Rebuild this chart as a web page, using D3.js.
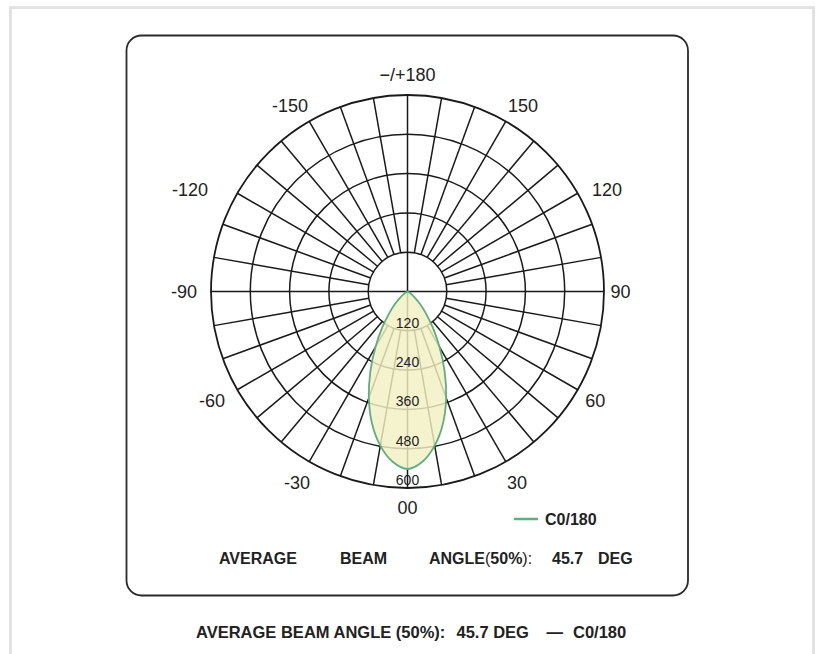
<!DOCTYPE html>
<html>
<head>
<meta charset="utf-8">
<script src="https://cdn.jsdelivr.net/npm/d3@7"></script>
<style>
  html, body { margin: 0; padding: 0; background: #fff; }
  #card { position: absolute; left: 9px; top: 6px; width: 806px; height: 700px; border: 3px solid #e3e3e3; box-sizing: border-box; }
  svg { position: absolute; left: 0; top: 0; }
  text { font-family: "Liberation Sans", Arial, Helvetica, sans-serif; fill: #222; }
</style>
</head>
<body>
<div id="card"></div>
<svg id="chart" width="821" height="654"></svg>
<script>
// ---- data ----
const gammaAngles = [0, 5, 10, 15, 20, 25, 30, 35, 40, 45, 50, 55, 60, 65, 70, 75, 80, 85, 90];
const c0_180 = [542, 522, 478, 418, 345, 268, 195, 135, 88, 55, 30, 14, 5, 0, 0, 0, 0, 0, 0];
const ringValues = [120, 240, 360, 480, 600];
const angleTicks = [0, 30, 60, 90, 120, 150, 180, -150, -120, -90, -60, -30];
const angleTickLabels = ["00", "30", "60", "90", "120", "150", "\u2212/+180", "-150", "-120", "-90", "-60", "-30"];
const seriesName = "C0/180";
const beamAngle = "45.7";

// ---- layout ----
const svg = d3.select("#chart");
const cx = 407.5, cy = 291.5, R = 196.5;
const rScale = d3.scaleLinear().domain([0, 600]).range([0, R]);
const toRad = d => d * Math.PI / 180;
const px = (g, r) => cx + r * Math.sin(toRad(g));
const py = (g, r) => cy + r * Math.cos(toRad(g));
// hand-placement nudges of the angle labels, as in the original drawing
const labelNudge = new Map([
  [180, [0, 1.5]], [150, [6.5, 3.3]], [120, [10.7, 7.5]], [90, [-5, 0]],
  [60, [-1, 0]], [30, [0.5, 2.7]], [0, [0, -1.5]], [-30, [-1.5, 2.7]],
  [-60, [-6.7, 0]], [-90, [-5.5, 0]], [-120, [-28.7, 7.5]], [-150, [-8.5, 3.3]]
]);

// frame
svg.append("rect").attr("x", 126.5).attr("y", 35.5).attr("width", 561.5).attr("height", 560)
  .attr("rx", 15).attr("fill", "none").attr("stroke", "#2b2b2b").attr("stroke-width", 1.8);

const grid = svg.append("g").attr("stroke", "#1a1a1a").attr("fill", "none").attr("stroke-width", 1.5);
// rings
grid.selectAll("circle").data(ringValues).join("circle")
  .attr("cx", cx).attr("cy", cy).attr("r", d => rScale(d))
  .attr("stroke-width", (d, i) => i === ringValues.length - 1 ? 1.8 : 1.5);
// spokes every 10 degrees
const spokes = d3.range(0, 360, 10);
grid.selectAll("line").data(spokes).join("line")
  .attr("x1", d => d % 90 === 0 ? cx : px(d, rScale(ringValues[0])))
  .attr("y1", d => d % 90 === 0 ? cy : py(d, rScale(ringValues[0])))
  .attr("x2", d => px(d, R))
  .attr("y2", d => py(d, R));

// lobe (symmetric C0/180)
const pts = [];
const lastIdx = c0_180.findIndex((v, i) => v === 0 && i > 0);
for (let i = lastIdx; i >= 1; i--) pts.push([-gammaAngles[i], c0_180[i]]);
for (let i = 0; i <= lastIdx; i++) pts.push([gammaAngles[i], c0_180[i]]);
const radial = d3.lineRadial()
  .angle(d => Math.PI - toRad(d[0]))
  .radius(d => rScale(d[1]))
  .curve(d3.curveCatmullRom.alpha(0.5));
svg.append("path")
  .attr("transform", `translate(${cx},${cy})`)
  .attr("d", radial(pts) + "Z")
  .attr("fill", "#f3f0c2").attr("fill-opacity", 0.82)
  .attr("stroke", "#5fae80").attr("stroke-width", 1.8);

// ring labels
svg.append("g").selectAll("text").data(ringValues).join("text")
  .attr("x", cx).attr("y", d => cy + rScale(d) - 3)
  .attr("text-anchor", "middle").attr("font-size", 14)
  .text(d => d);

// angle labels
svg.append("g").selectAll("text").data(angleTicks).join("text")
  .attr("x", d => px(d, 218) + labelNudge.get(d)[0])
  .attr("y", d => py(d, 218) + labelNudge.get(d)[1])
  .attr("text-anchor", "middle").attr("dominant-baseline", "central")
  .attr("font-size", 18)
  .text((d, i) => angleTickLabels[i]);

// legend
svg.append("line").attr("x1", 514).attr("x2", 538).attr("y1", 519).attr("y2", 519)
  .attr("stroke", "#5fae80").attr("stroke-width", 2.5);
svg.append("text").attr("x", 545).attr("y", 524.5).attr("font-size", 16).attr("font-weight", "bold").text(seriesName);

// inner caption
const cap = svg.append("g").attr("font-size", 16).attr("font-weight", "bold");
cap.append("text").attr("x", 219).attr("y", 564).text("AVERAGE");
cap.append("text").attr("x", 340).attr("y", 564).text("BEAM");
const ang = cap.append("text").attr("x", 429).attr("y", 564);
ang.append("tspan").text("ANGLE");
ang.append("tspan").attr("font-weight", "normal").text("(");
ang.append("tspan").text("50%");
ang.append("tspan").attr("font-weight", "normal").text("):");
cap.append("text").attr("x", 552).attr("y", 564).text(beamAngle);
cap.append("text").attr("x", 598).attr("y", 564).text("DEG");

// footer
const foot = svg.append("g").attr("font-size", 16.5).attr("font-weight", "bold");
foot.append("text").attr("x", 196).attr("y", 638).text("AVERAGE BEAM ANGLE (50%):");
foot.append("text").attr("x", 456.5).attr("y", 638).text(beamAngle + " DEG");
foot.append("text").attr("x", 546.5).attr("y", 638).text("\u2014");
foot.append("text").attr("x", 573).attr("y", 638).text(seriesName);
</script>
</body>
</html>
